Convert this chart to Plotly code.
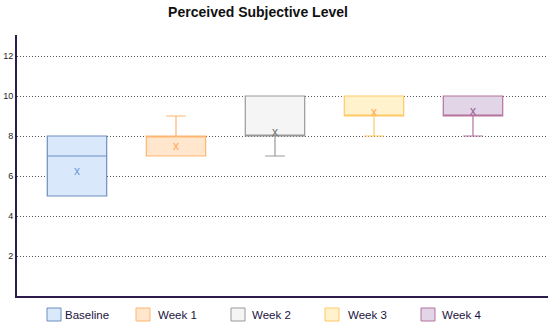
import plotly.graph_objects as go

categories = ["Baseline", "Week 1", "Week 2", "Week 3", "Week 4"]
q1 = [5, 7, 8, 9, 9]
median = [7, 8, 8, 9, 9]
q3 = [8, 8, 10, 10, 10]
lowerfence = [5, 7, 7, 8, 8]
upperfence = [8, 9, 10, 10, 10]
means = [6.2, 7.47, 8.15, 9.13, 9.2]

fills = ["#dae8fc", "#ffe6cc", "#f5f5f5", "#fff2cc", "#e1d5e7"]
strokes = ["#6c8ebf", "#ffb570", "#999999", "#ffc966", "#b5739d"]
mean_colors = ["#6f98d8", "#ffa552", "#707070", "#ffa552", "#9a5a92"]

W, H = 550, 328
L, R, T, B = 17, 2, 35, 32
PW, PH = W - L - R, H - T - B

fig = go.Figure()
for i, name in enumerate(categories):
    fig.add_trace(go.Box(
        name=name, x=[i],
        q1=[q1[i]], median=[median[i]], q3=[q3[i]],
        lowerfence=[lowerfence[i]], upperfence=[upperfence[i]],
        fillcolor=fills[i], line=dict(color=strokes[i], width=1.2),
        width=0.6, whiskerwidth=0.33, boxpoints=False, showlegend=False,
    ))
    fig.add_trace(go.Scatter(
        x=[i], y=[means[i]], mode="text", text=["x"],
        textfont=dict(color=mean_colors[i], size=12, family="Liberation Sans"),
        textposition="middle center", showlegend=False, hoverinfo="skip",
    ))

# manual legend (positions in pixels converted to paper coords)
def px(xp):
    return (xp - L) / PW

def py(yp):
    return (H - B - yp) / PH

swatch_x = [47, 136, 231, 325, 421]
label_x = [64, 157, 251, 347, 441]
shapes = []
annotations = []
for i, name in enumerate(categories):
    x0 = swatch_x[i]
    shapes.append(dict(type="rect", xref="paper", yref="paper",
                       x0=px(x0), x1=px(x0 + 14), y0=py(321), y1=py(308),
                       fillcolor=fills[i], line=dict(color=strokes[i], width=1)))
    annotations.append(dict(text=name, xref="paper", yref="paper",
                            x=px(label_x[i] - 1), y=py(314.5), xanchor="left", yanchor="middle",
                            showarrow=False,
                            font=dict(size=11.5, color="#1b1340", family="Liberation Sans, Arial")))

fig.update_layout(
    width=W, height=H,
    margin=dict(l=L, r=R, t=T, b=B, autoexpand=False),
    paper_bgcolor="white", plot_bgcolor="white",
    title=dict(text="<b>Perceived Subjective Level</b>", xref="container", x=258 / W,
               xanchor="center", y=1 - 12.5 / H, yanchor="middle",
               font=dict(family="Liberation Sans, Arial", size=14, color="#111111")),
    font=dict(family="Liberation Sans, Arial", color="#1a1a3e"),
    showlegend=False,
    shapes=shapes,
    annotations=annotations,
    xaxis=dict(range=[-0.606, -0.606 + PW / 99.0], showticklabels=False, showgrid=False,
               zeroline=False, showline=True, linecolor="#2d1b4e", linewidth=2,
               fixedrange=True, automargin=False),
    yaxis=dict(range=[0, 13.05], tickvals=[2, 4, 6, 8, 10, 12], showgrid=True,
               gridcolor="#555555", griddash="1px,2px", gridwidth=1, zeroline=False,
               showline=True, linecolor="#2d1b4e", linewidth=2, automargin=False,
               tickfont=dict(size=9, color="#222222"), ticks="", layer="below traces"),
)

fig.write_html(
    "out.html",
    config={"displayModeBar": False},
    post_script="document.body.style.margin='0';document.body.style.padding='0';document.body.style.overflow='hidden';",
)
